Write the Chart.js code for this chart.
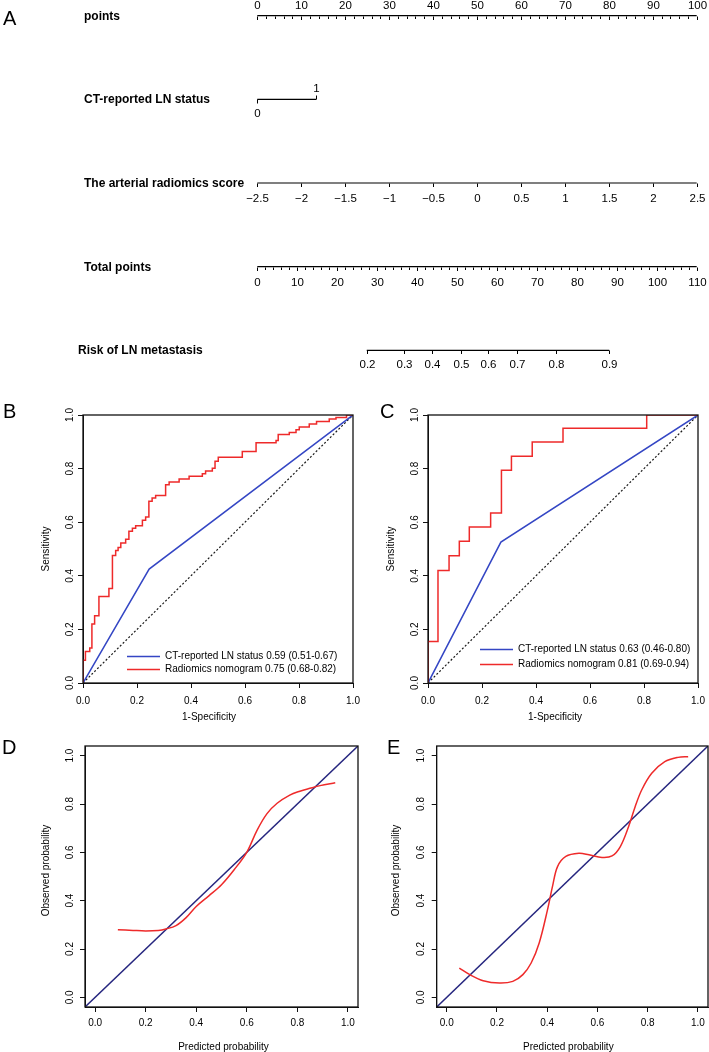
<!DOCTYPE html>
<html>
<head>
<meta charset="utf-8">
<script src="https://cdn.jsdelivr.net/npm/chart.js@4.4.1/dist/chart.umd.min.js"></script>
<style>
    html, body { margin: 0; padding: 0; background: #fff; }
    body { width: 709px; height: 1052px; position: relative; overflow: hidden; }
    canvas { position: absolute; }
    #nomogram { left: 0px; top: 0px; }
    #rocB { left: 0px; top: 395px; }
    #rocC { left: 355px; top: 395px; }
    #calD { left: 0px; top: 730px; }
    #calE { left: 362px; top: 730px; }
</style>
</head>
<body>
<canvas id="nomogram" width="709" height="390"></canvas>
<canvas id="rocB" width="364" height="335"></canvas>
<canvas id="rocC" width="354" height="335"></canvas>
<canvas id="calD" width="362" height="322"></canvas>
<canvas id="calE" width="347" height="322"></canvas>
<script>
// Nomograma (A)
const rowLabels = ['points', 'CT-reported LN status', 'The arterial radiomics score', 'Total points', 'Risk of LN metastasis'];
const pointsTicks = [0, 10, 20, 30, 40, 50, 60, 70, 80, 90, 100];
const ctLevels = ['0', '1'];
const ctPoints = [0, 13.4];
const scoreTicks = [-2.5, -2, -1.5, -1, -0.5, 0, 0.5, 1, 1.5, 2, 2.5];
const totalTicks = [0, 10, 20, 30, 40, 50, 60, 70, 80, 90, 100, 110];
const riskTicks = [0.2, 0.3, 0.4, 0.5, 0.6, 0.7, 0.8, 0.9];
const riskTotal = [27.4, 36.6, 43.7, 51.0, 57.8, 64.9, 74.9, 88.1];

// Curvas ROC (B, C)
const rocTicks = [0, 0.2, 0.4, 0.6, 0.8, 1.0];
const legendNames = ['CT-reported LN status', 'Radiomics nomogram'];
const rocBFpr = [0, 0, 0.009, 0.025, 0.033, 0.043, 0.059, 0.096, 0.109, 0.121, 0.130, 0.140, 0.158, 0.170, 0.183, 0.195, 0.220, 0.232, 0.244, 0.256, 0.269, 0.306, 0.319, 0.356, 0.393, 0.442, 0.454, 0.479, 0.489, 0.501, 0.590, 0.641, 0.715, 0.723, 0.764, 0.789, 0.801, 0.838, 0.865, 0.912, 0.937, 0.976, 1.0];
const rocBSens = [0, 0.085, 0.118, 0.131, 0.220, 0.251, 0.323, 0.353, 0.476, 0.494, 0.506, 0.522, 0.536, 0.566, 0.577, 0.587, 0.607, 0.619, 0.678, 0.690, 0.700, 0.740, 0.750, 0.761, 0.771, 0.781, 0.791, 0.801, 0.827, 0.842, 0.864, 0.896, 0.905, 0.927, 0.935, 0.945, 0.955, 0.966, 0.976, 0.985, 0.991, 1.0, 1.0];
const ctBFpr = [0, 0.245, 1];
const ctBSens = [0, 0.425, 1];
const aucB = ['0.59 (0.51-0.67)', '0.75 (0.68-0.82)'];

const rocCFpr = [0, 0, 0.037, 0.078, 0.116, 0.153, 0.232, 0.272, 0.309, 0.386, 0.500, 0.810, 1.0];
const rocCSens = [0, 0.155, 0.420, 0.475, 0.529, 0.582, 0.634, 0.794, 0.846, 0.899, 0.951, 1.0, 1.0];
const ctCFpr = [0, 0.27, 1];
const ctCSens = [0, 0.526, 1];
const aucC = ['0.63 (0.46-0.80)', '0.81 (0.69-0.94)'];

// Curvas de calibração (D, E)
const calRange = [-0.04, 1.04];
const calDPred = [0.09, 0.15, 0.20, 0.25, 0.28, 0.32, 0.36, 0.40, 0.45, 0.50, 0.55, 0.60, 0.64, 0.68, 0.72, 0.77, 0.81, 0.85, 0.89, 0.95];
const calDObs = [0.280, 0.277, 0.275, 0.277, 0.283, 0.297, 0.330, 0.376, 0.420, 0.466, 0.528, 0.600, 0.690, 0.760, 0.803, 0.837, 0.853, 0.865, 0.876, 0.888];
const calEPred = [0.05, 0.092, 0.145, 0.21, 0.263, 0.303, 0.336, 0.368, 0.401, 0.421, 0.441, 0.474, 0.526, 0.566, 0.618, 0.658, 0.691, 0.724, 0.75, 0.776, 0.816, 0.868, 0.921, 0.961];
const calEObs = [0.121, 0.094, 0.069, 0.059, 0.066, 0.094, 0.142, 0.225, 0.362, 0.459, 0.541, 0.583, 0.596, 0.590, 0.579, 0.585, 0.624, 0.707, 0.789, 0.858, 0.927, 0.975, 0.993, 0.996];

// Cores do tema
const colors = {
    red: '#ee2a2a',
    blue: '#3446c4',
    navy: '#26267f',
    ink: '#111111',
};
const FONT = '"Liberation Sans", Arial, Helvetica, sans-serif';

const zip = (xs, ys) => xs.map((x, i) => ({ x: x, y: ys[i] }));
const scoreToPoints = s => (s - scoreTicks[0]) / (scoreTicks[scoreTicks.length - 1] - scoreTicks[0]) * 100;
const totalToPoints = t => t / totalTicks[totalTicks.length - 1] * 100;

function crispLine(ctx, x1, y1, x2, y2) {
    ctx.beginPath();
    ctx.moveTo(x1, y1);
    ctx.lineTo(x2, y2);
    ctx.stroke();
}

// ---------- A: nomograma ----------
function drawNomogram(chart) {
    const ctx = chart.ctx;
    const xs = chart.scales.x, ys = chart.scales.y;
    const px = p => Math.round(xs.getPixelForValue(p)) + 0.5;
    const rowY = i => Math.round(ys.getPixelForValue(i)) + 0.5;

    ctx.save();
    ctx.fillStyle = '#000';
    ctx.strokeStyle = '#000';
    ctx.lineWidth = 1;

    ctx.font = '20px ' + FONT;
    ctx.textAlign = 'left';
    ctx.textBaseline = 'middle';
    ctx.fillText('A', 3, 19);

    ctx.font = 'bold 12px ' + FONT;
    rowLabels.forEach((t, i) => ctx.fillText(t, i === 4 ? 78 : 84, rowY(i)));

    ctx.font = '11.5px ' + FONT;
    ctx.textAlign = 'center';
    const fmt = v => String(v).replace('-', '\u2212');

    // points
    let y = rowY(0);
    for (let v = 0; v <= 100; v += 2) {
        crispLine(ctx, px(v), y, px(v), y + (v % 10 === 0 ? 3.5 : 2.5));
    }
    pointsTicks.forEach(v => ctx.fillText(fmt(v), px(v), y - 10.5));

    // CT-reported LN status
    y = rowY(1);
    crispLine(ctx, px(ctPoints[0]), y, px(ctPoints[0]), y + 4);
    crispLine(ctx, px(ctPoints[1]), y, px(ctPoints[1]), y - 4);
    ctx.fillText(ctLevels[0], px(ctPoints[0]), y + 14);
    ctx.fillText(ctLevels[1], px(ctPoints[1]), y - 11);

    // radiomics score
    y = rowY(2);
    scoreTicks.forEach(v => {
        const x = px(scoreToPoints(v));
        crispLine(ctx, x, y, x, y + 3.5);
        ctx.fillText(fmt(v), x, y + 15);
    });

    // total points
    y = rowY(3);
    for (let v = 0; v <= totalTicks[totalTicks.length - 1]; v += 2) {
        const x = px(totalToPoints(v));
        crispLine(ctx, x, y, x, y + (v % 10 === 0 ? 3.5 : 2.5));
    }
    totalTicks.forEach(v => ctx.fillText(fmt(v), px(totalToPoints(v)), y + 15));

    // risk
    y = rowY(4);
    riskTicks.forEach((r, i) => {
        const x = px(totalToPoints(riskTotal[i]));
        crispLine(ctx, x, y, x, y + 3.5);
        ctx.fillText(r.toFixed(1), x, y + 14);
    });
    ctx.restore();
}

const nomoRow = (row, a, b) => ({
    data: [{ x: a, y: row }, { x: b, y: row }],
    borderColor: '#000',
    borderWidth: 1.2,
    pointRadius: 0,
    clip: false,
});

new Chart(document.getElementById('nomogram'), {
    type: 'line',
    data: {
        datasets: [
            nomoRow(0, pointsTicks[0], pointsTicks[pointsTicks.length - 1]),
            nomoRow(1, ctPoints[0], ctPoints[1]),
            nomoRow(2, scoreToPoints(scoreTicks[0]), scoreToPoints(scoreTicks[scoreTicks.length - 1])),
            nomoRow(3, 0, totalToPoints(totalTicks[totalTicks.length - 1])),
            nomoRow(4, totalToPoints(riskTotal[0]), totalToPoints(riskTotal[riskTotal.length - 1])),
        ]
    },
    options: {
        responsive: false,
        animation: false,
        events: [],
        layout: { padding: { left: 257.3, right: 12.3, top: 15.7, bottom: 39.7 } },
        plugins: { legend: { display: false }, tooltip: { enabled: false } },
        scales: {
            x: { type: 'linear', min: 0, max: 100, display: false },
            y: { type: 'linear', min: 0, max: 4, reverse: true, display: false },
        }
    },
    plugins: [{ id: 'nomogramAxes', afterDatasetsDraw: drawNomogram }]
});

// ---------- B-E: ROC e calibração ----------
const AX = 10;

function axisOptions(range, ticks, dir) {
    return {
        type: 'linear',
        min: range[0],
        max: range[1],
        position: dir === 'x' ? 'bottom' : 'left',
        afterBuildTicks: s => { s.ticks = ticks.map(v => ({ value: v })); },
        afterFit: s => {
            if (dir === 'x') s.height = AX; else s.width = AX;
            s.paddingLeft = s.paddingRight = s.paddingTop = s.paddingBottom = 0;
        },
        ticks: { display: false },
        grid: { drawOnChartArea: false, drawTicks: true, tickLength: 5, color: colors.ink, lineWidth: 1 },
        border: { display: true, color: colors.ink, width: 1 },
    };
}

function panelPlugin(cfg) {
    return {
        id: 'panelDecor',
        afterDraw(chart) {
            const ctx = chart.ctx;
            const a = chart.chartArea;
            const xs = chart.scales.x, ys = chart.scales.y;
            ctx.save();
            ctx.strokeStyle = colors.ink;
            ctx.lineWidth = 1.3;
            ctx.strokeRect(a.left, a.top, a.right - a.left, a.bottom - a.top);

            ctx.fillStyle = '#000';
            ctx.font = '10px ' + FONT;
            ctx.textAlign = 'center';
            ctx.textBaseline = 'middle';
            cfg.ticks.forEach(v => {
                ctx.fillText(v.toFixed(1), xs.getPixelForValue(v), a.bottom + cfg.xLab);
                ctx.save();
                ctx.translate(a.left - cfg.yLab, ys.getPixelForValue(v));
                ctx.rotate(-Math.PI / 2);
                ctx.fillText(v.toFixed(1), 0, 0);
                ctx.restore();
            });

            ctx.fillText(cfg.xTitle, (a.left + a.right) / 2 + cfg.xTitleShift, a.bottom + cfg.xTitleOff);
            ctx.save();
            ctx.translate(a.left - cfg.yTitleOff, (a.top + a.bottom) / 2 + cfg.yTitleShift);
            ctx.rotate(-Math.PI / 2);
            ctx.fillText(cfg.yTitle, 0, 0);
            ctx.restore();

            ctx.font = '20px ' + FONT;
            ctx.textAlign = 'left';
            ctx.fillText(cfg.letter, cfg.letterPos[0], cfg.letterPos[1]);

            if (cfg.legend) {
                const L = cfg.legend;
                ctx.font = '10px ' + FONT;
                L.items.forEach((it, i) => {
                    const y = Math.round(a.bottom - L.rows[i]) + 0.5;
                    ctx.strokeStyle = it.color;
                    ctx.lineWidth = 1.5;
                    crispLine(ctx, a.left + L.line[0], y, a.left + L.line[1], y);
                    ctx.fillText(it.text, a.left + L.text, y);
                });
            }
            ctx.restore();
        }
    };
}

function makePanel(id, cfg) {
    const c = document.getElementById(id);
    const W = c.width, H = c.height;
    const [L, R, T, B] = cfg.area;
    return new Chart(c, {
        type: 'line',
        data: { datasets: cfg.datasets },
        options: {
            responsive: false,
            animation: false,
            events: [],
            layout: { padding: { left: L - AX, top: T, right: W - R, bottom: H - B - AX } },
            plugins: { legend: { display: false }, tooltip: { enabled: false } },
            elements: { point: { radius: 0 } },
            scales: {
                x: axisOptions(cfg.range, cfg.ticks, 'x'),
                y: axisOptions(cfg.range, cfg.ticks, 'y'),
            }
        },
        plugins: [panelPlugin(cfg)]
    });
}

function rocDatasets(fpr, sens, ctFpr, ctSens) {
    return [
        { data: zip(fpr, sens), borderColor: colors.red, borderWidth: 1.5, stepped: 'before' },
        { data: zip(ctFpr, ctSens), borderColor: colors.blue, borderWidth: 1.5 },
        { data: zip([0, 1], [0, 1]), borderColor: '#1a1a1a', borderWidth: 1.2, borderDash: [2, 2] },
    ];
}

function calDatasets(pred, obs) {
    return [
        { data: zip(pred, obs), borderColor: colors.red, borderWidth: 1.5, tension: 0.35 },
        { data: zip(calRange, calRange), borderColor: colors.navy, borderWidth: 1.5 },
    ];
}

makePanel('rocB', {
    area: [83, 353, 20, 288],
    range: [0, 1],
    ticks: rocTicks,
    datasets: rocDatasets(rocBFpr, rocBSens, ctBFpr, ctBSens),
    xLab: 18, yLab: 13,
    xTitle: '1-Specificity', xTitleOff: 34, xTitleShift: -9,
    yTitle: 'Sensitivity', yTitleOff: 37, yTitleShift: 0,
    letter: 'B', letterPos: [3, 17],
    legend: {
        line: [44, 77], text: 82, rows: [27, 14],
        items: [
            { color: colors.blue, text: legendNames[0] + ' ' + aucB[0] },
            { color: colors.red, text: legendNames[1] + ' ' + aucB[1] },
        ]
    }
});

makePanel('rocC', {
    area: [73, 343, 20, 288],
    range: [0, 1],
    ticks: rocTicks,
    datasets: rocDatasets(rocCFpr, rocCSens, ctCFpr, ctCSens),
    xLab: 18, yLab: 13,
    xTitle: '1-Specificity', xTitleOff: 34, xTitleShift: -8,
    yTitle: 'Sensitivity', yTitleOff: 37, yTitleShift: 0,
    letter: 'C', letterPos: [25, 17],
    legend: {
        line: [52, 85], text: 90, rows: [34, 19],
        items: [
            { color: colors.blue, text: legendNames[0] + ' ' + aucC[0] },
            { color: colors.red, text: legendNames[1] + ' ' + aucC[1] },
        ]
    }
});

makePanel('calD', {
    area: [85, 358, 16, 277],
    range: calRange,
    ticks: rocTicks,
    datasets: calDatasets(calDPred, calDObs),
    xLab: 16, yLab: 15,
    xTitle: 'Predicted probability', xTitleOff: 40, xTitleShift: 2,
    yTitle: 'Observed probability', yTitleOff: 39, yTitleShift: -6,
    letter: 'D', letterPos: [2, 18],
});

makePanel('calE', {
    area: [74.7, 346, 16, 277],
    range: calRange,
    ticks: rocTicks,
    datasets: calDatasets(calEPred, calEObs),
    xLab: 16, yLab: 15,
    xTitle: 'Predicted probability', xTitleOff: 40, xTitleShift: -4,
    yTitle: 'Observed probability', yTitleOff: 40, yTitleShift: -6,
    letter: 'E', letterPos: [25, 18],
});
</script>
</body>
</html>
